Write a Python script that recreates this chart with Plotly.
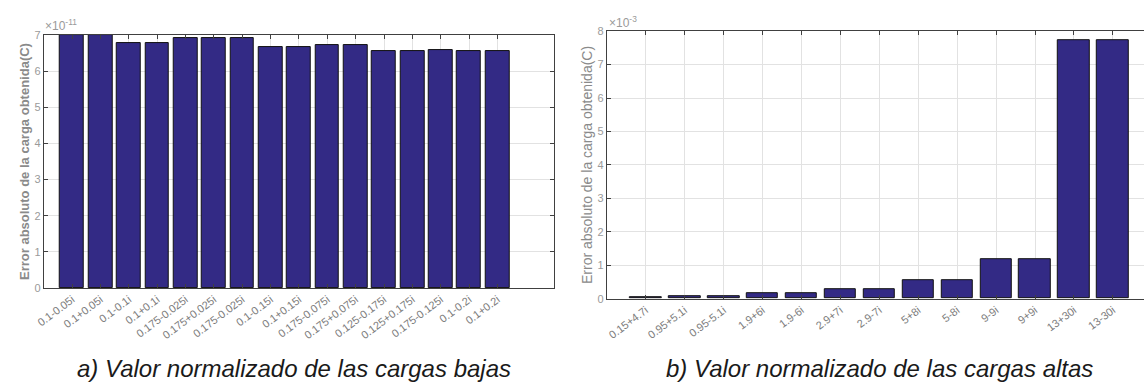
import plotly.graph_objects as go

# Low-charge cases: absolute error of the recovered charge (C)
low_labels = ["0.1-0.05i", "0.1+0.05i", "0.1-0.1i", "0.1+0.1i",
              "0.175-0.025i", "0.175+0.025i", "0.175-0.025i", "0.1-0.15i",
              "0.1+0.15i", "0.175-0.075i", "0.175+0.075i", "0.125-0.175i",
              "0.125+0.175i", "0.175-0.125i", "0.1-0.2i", "0.1+0.2i"]
low_error = [6.99e-11, 6.99e-11, 6.79e-11, 6.79e-11, 6.92e-11, 6.92e-11,
             6.92e-11, 6.66e-11, 6.66e-11, 6.73e-11, 6.73e-11, 6.56e-11,
             6.56e-11, 6.58e-11, 6.55e-11, 6.55e-11]
low_yticks = [0, 1, 2, 3, 4, 5, 6, 7]
low_scale = 1e-11

# High-charge cases
high_labels = ["0.15+4.7i", "0.95+5.1i", "0.95-5.1i", "1.9+6i", "1.9-6i",
               "2.9+7i", "2.9-7i", "5+8i", "5-8i", "9-9i", "9+9i",
               "13+30i", "13-30i"]
high_error = [0.03e-3, 0.07e-3, 0.06e-3, 0.16e-3, 0.16e-3, 0.27e-3, 0.27e-3,
              0.54e-3, 0.54e-3, 1.17e-3, 1.17e-3, 7.74e-3, 7.74e-3]
high_yticks = [0, 1, 2, 3, 4, 5, 6, 7, 8]
high_scale = 1e-3

W, H = 1144, 388
BAR = "#332a85"
AX = "#404040"
GRID = "#e2e2e2"
TXT = "#8a8a8a"
FONT = "Liberation Sans, Arial, sans-serif"


def px(x):
    return x / W


def py(y):
    return 1 - y / H


fig = go.Figure()

fig.add_trace(go.Bar(
    x=list(range(1, len(low_error) + 1)), y=low_error, width=0.84,
    marker=dict(color=BAR, line=dict(color="#111111", width=1)),
    xaxis="x", yaxis="y", showlegend=False))

fig.add_trace(go.Bar(
    x=list(range(1, len(high_error) + 1)), y=high_error, width=0.81,
    marker=dict(color=BAR, line=dict(color="#111111", width=1)),
    xaxis="x2", yaxis="y2", showlegend=False))

common_x = dict(showline=True, linecolor=AX, linewidth=1, mirror="ticks",
                ticks="inside", ticklen=4, tickcolor=AX, showgrid=True,
                gridcolor=GRID, gridwidth=1, zeroline=False, tickangle=-37,
                tickfont=dict(family=FONT, size=11, color="#7c7c7c"))
common_y = dict(showline=True, linecolor=AX, linewidth=1, ticks="inside",
                ticklen=4, tickcolor=AX, showgrid=True, gridcolor=GRID,
                gridwidth=1, zeroline=False,
                tickfont=dict(family=FONT, size=11, color="#9a9a9a"))

fig.update_layout(
    width=W, height=H, margin=dict(l=0, r=0, t=0, b=0),
    paper_bgcolor="white", plot_bgcolor="white", bargap=0,
    xaxis=dict(common_x, domain=[px(36), px(550)], range=[0, 18],
               tickvals=list(range(1, len(low_labels) + 1)),
               ticktext=low_labels, anchor="y"),
    yaxis=dict(common_y, domain=[py(291), py(30)], range=[0, 7 * low_scale],
               tickvals=[v * low_scale for v in low_yticks],
               ticktext=[str(v) for v in low_yticks], mirror="ticks",
               anchor="x",
               title=dict(text="<b>Error absoluto de la carga obtenida(C)</b>",
                          font=dict(family=FONT, size=13, color=TXT),
                          standoff=1)),
    xaxis2=dict(common_x, domain=[px(603), 1.0], range=[0, 13.8],
                tickvals=list(range(1, len(high_labels) + 1)),
                ticktext=high_labels, anchor="y2"),
    yaxis2=dict(common_y, domain=[py(302), py(26)], range=[0, 8 * high_scale],
                tickvals=[v * high_scale for v in high_yticks],
                ticktext=[str(v) for v in high_yticks], mirror=False,
                anchor="x2",
                title=dict(text="Error absoluto de la carga obtenida(C)",
                           font=dict(family=FONT, size=14, color=TXT),
                           standoff=1)),
)

annotations = [
    dict(text="×10<sup>-11</sup>", x=px(35), y=py(20), xanchor="left",
         yanchor="middle", font=dict(family=FONT, size=12, color="#9a9a9a")),
    dict(text="×10<sup>-3</sup>", x=px(603), y=py(16), xanchor="left",
         yanchor="middle", font=dict(family=FONT, size=12, color="#9a9a9a")),
    dict(text="<i>a) Valor normalizado de las cargas bajas</i>",
         x=px(288), y=py(374), xanchor="center", yanchor="middle",
         font=dict(family=FONT, size=24, color="#1a1a1a")),
    dict(text="<i>b) Valor normalizado de las cargas altas</i>",
         x=px(878), y=py(374), xanchor="center", yanchor="middle",
         font=dict(family=FONT, size=24, color="#1a1a1a")),
]
for a in annotations:
    a.update(xref="paper", yref="paper", showarrow=False)
fig.update_layout(annotations=annotations)

fig.write_html("out.html")
